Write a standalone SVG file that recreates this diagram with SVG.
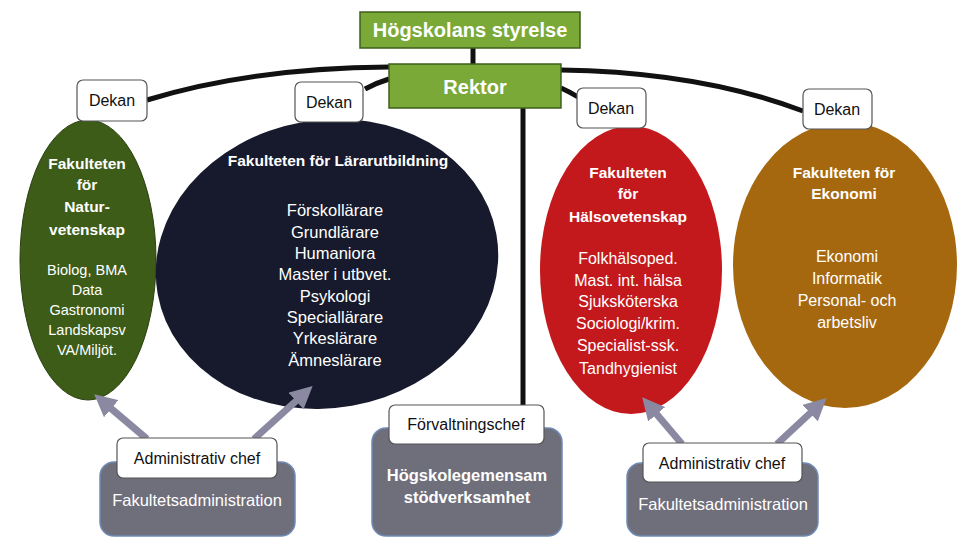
<svg xmlns="http://www.w3.org/2000/svg" width="961" height="538" viewBox="0 0 961 538">
<style>
text{font-family:"Liberation Sans",Arial,sans-serif;text-anchor:middle}
.top{fill:#7aa937;stroke:#3f5f1c;stroke-width:1.5}
.topt{fill:#fff;font-weight:bold;font-size:20px}
.lbl{fill:#fff;stroke:#555;stroke-width:1.2}
.lblt{fill:#111;font-size:16px}
.wb{fill:#fff;font-weight:bold;font-size:15.5px}
.w{fill:#fff;font-size:16px}
.gray{fill:#6f6e7b;stroke:#6f8bb5;stroke-width:1.5}
.conn{fill:none;stroke:#111;stroke-width:5}
.arr{stroke:#8b89a2;stroke-width:7;fill:none;marker-end:url(#ah)}
</style>
<defs>
<marker id="ah" viewBox="0 0 10 10" refX="6" refY="5" markerWidth="3.2" markerHeight="3.2" orient="auto" markerUnits="strokeWidth">
<path d="M0,0 L10,5 L0,10 z" fill="#8b89a2"/>
</marker>
</defs>
<rect width="961" height="538" fill="#fff"/>

<g id="connectors">
<line class="conn" x1="473" y1="48" x2="473" y2="64"/>
<line class="conn" x1="523" y1="108" x2="523" y2="406"/>
<path class="conn" d="M147,100 Q250,68 389,67"/>
<path class="conn" d="M365,89 Q376,83 389,79"/>
<path class="conn" d="M561,70 Q700,72 803,111"/>
<path class="conn" d="M561,88 Q570,92 578,97"/>
</g>

<g id="styrelse">
<rect class="top" x="360" y="12" width="220" height="36"/>
<text class="topt" x="470" y="37">Högskolans styrelse</text>
</g>
<g id="rektor">
<rect class="top" x="389" y="64" width="172" height="44"/>
<text class="topt" x="475" y="94">Rektor</text>
</g>

<g id="fak-natur">
<ellipse cx="88" cy="260" rx="68" ry="140" fill="#3c5c18" stroke="#2a3f10" stroke-width="1"/>
<text class="wb" x="87" y="169">Fakulteten</text>
<text class="wb" x="87" y="190">för</text>
<text class="wb" x="87" y="212">Natur-</text>
<text class="wb" x="87" y="235">vetenskap</text>
<text class="w" x="87" y="275" style="font-size:14.5px">Biolog, BMA</text>
<text class="w" x="87" y="295" style="font-size:14.5px">Data</text>
<text class="w" x="87" y="315" style="font-size:14.5px">Gastronomi</text>
<text class="w" x="87" y="335" style="font-size:14.5px">Landskapsv</text>
<text class="w" x="87" y="355" style="font-size:14.5px">VA/Miljöt.</text>
</g>
<g id="dekan1">
<rect class="lbl" x="77" y="80" width="70" height="41" rx="6"/>
<text class="lblt" x="112" y="106">Dekan</text>
</g>

<g id="fak-lar">
<ellipse cx="327" cy="264" rx="172" ry="144" fill="#161a2c" transform="rotate(-10 327 264)"/>
<text class="wb" x="338" y="166">Fakulteten för Lärarutbildning</text>
<text class="w" x="335" y="216" style="font-size:16.5px">Förskollärare</text>
<text class="w" x="335" y="238" style="font-size:16.5px">Grundlärare</text>
<text class="w" x="335" y="259" style="font-size:16.5px">Humaniora</text>
<text class="w" x="335" y="280" style="font-size:16.5px">Master i utbvet.</text>
<text class="w" x="335" y="302" style="font-size:16.5px">Psykologi</text>
<text class="w" x="335" y="323" style="font-size:16.5px">Speciallärare</text>
<text class="w" x="335" y="344" style="font-size:16.5px">Yrkeslärare</text>
<text class="w" x="335" y="366" style="font-size:16.5px">Ämneslärare</text>
</g>
<g id="dekan2">
<rect class="lbl" x="295" y="82" width="68" height="40" rx="6"/>
<text class="lblt" x="329" y="108">Dekan</text>
</g>

<g id="fak-halsa">
<ellipse cx="631" cy="270" rx="91" ry="144" fill="#c4191c"/>
<text class="wb" x="628" y="178">Fakulteten</text>
<text class="wb" x="628" y="199">för</text>
<text class="wb" x="628" y="222">Hälsovetenskap</text>
<text class="w" x="628" y="264">Folkhälsoped.</text>
<text class="w" x="628" y="286">Mast. int. hälsa</text>
<text class="w" x="628" y="307">Sjuksköterska</text>
<text class="w" x="628" y="329">Sociologi/krim.</text>
<text class="w" x="628" y="351">Specialist-ssk.</text>
<text class="w" x="628" y="374">Tandhygienist</text>
</g>
<g id="dekan3">
<rect class="lbl" x="577" y="88" width="69" height="40" rx="6"/>
<text class="lblt" x="611" y="114">Dekan</text>
</g>

<g id="fak-ekonomi">
<ellipse cx="845" cy="265" rx="112" ry="143" fill="#a5680f"/>
<text class="wb" x="844" y="178">Fakulteten för</text>
<text class="wb" x="844" y="199">Ekonomi</text>
<text class="w" x="847" y="262">Ekonomi</text>
<text class="w" x="847" y="284">Informatik</text>
<text class="w" x="847" y="306">Personal- och</text>
<text class="w" x="847" y="328">arbetsliv</text>
</g>
<g id="dekan4">
<rect class="lbl" x="803" y="89" width="69" height="40" rx="6"/>
<text class="lblt" x="837" y="115">Dekan</text>
</g>

<g id="arrows">
<line class="arr" x1="147" y1="439" x2="101" y2="400"/>
<line class="arr" x1="254" y1="439" x2="306" y2="392"/>
<line class="arr" x1="682" y1="444" x2="648" y2="404"/>
<line class="arr" x1="777" y1="444" x2="820" y2="404"/>
</g>

<g id="fakadm-left">
<rect class="gray" x="100" y="462" width="195" height="74" rx="14"/>
<text class="w" x="197" y="506" style="font-size:16.5px">Fakultetsadministration</text>
</g>
<g id="admchef-left">
<rect class="lbl" x="117" y="438" width="160" height="40" rx="6"/>
<text class="lblt" x="197" y="464">Administrativ chef</text>
</g>

<g id="stod">
<rect class="gray" x="372" y="428" width="190" height="108" rx="14"/>
<text class="wb" x="467" y="481" style="font-size:16.5px">Högskolegemensam</text>
<text class="wb" x="467" y="503" style="font-size:16.5px">stödverksamhet</text>
</g>
<g id="forvaltningschef">
<rect class="lbl" x="389" y="405" width="155" height="39" rx="6"/>
<text class="lblt" x="466" y="430">Förvaltningschef</text>
</g>

<g id="fakadm-right">
<rect class="gray" x="627" y="463" width="191" height="73" rx="14"/>
<text class="w" x="723" y="510" style="font-size:16.5px">Fakultetsadministration</text>
</g>
<g id="admchef-right">
<rect class="lbl" x="643" y="443" width="159" height="39" rx="6"/>
<text class="lblt" x="722" y="469">Administrativ chef</text>
</g>
</svg>
